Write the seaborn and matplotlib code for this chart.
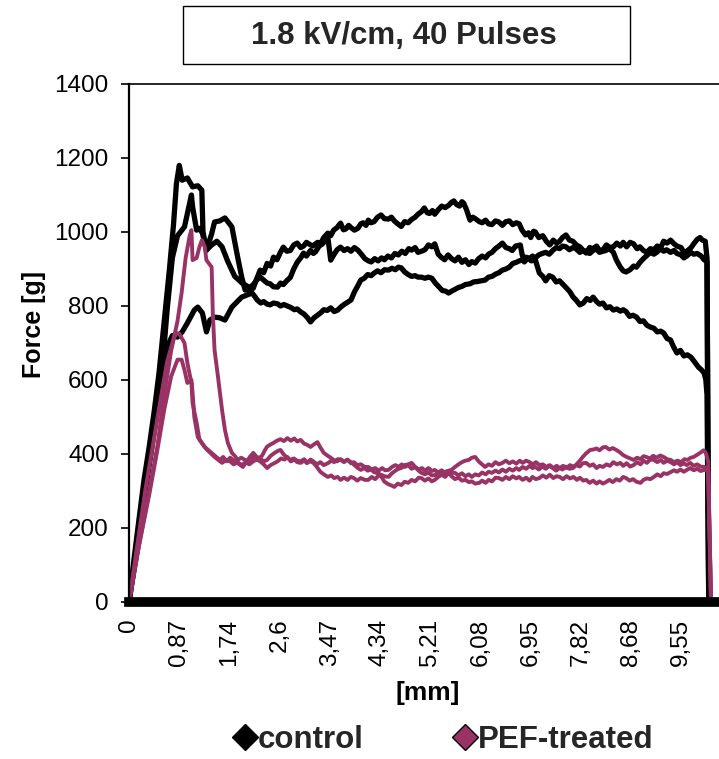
import matplotlib
matplotlib.use("Agg")
import matplotlib.pyplot as plt
import seaborn as sns
import pandas as pd
from matplotlib.lines import Line2D
from matplotlib.patches import Rectangle

# ---------------- data ----------------
# each curve: (distance [mm], force [g]) points
ctrl_a = [(0, 0), (0.09, 120), (0.17, 220), (0.26, 330), (0.35, 420), (0.44, 520), (0.52, 620), (0.61, 760),
          (0.70, 900), (0.77, 1020), (0.82, 1130), (0.87, 1180), (0.92, 1140), (1.01, 1146), (1.10, 1122),
          (1.19, 1125), (1.26, 1113), (1.28, 1000), (1.34, 951), (1.43, 995), (1.48, 1027), (1.57, 1030),
          (1.66, 1038), (1.78, 1014), (1.88, 932), (1.95, 878), (2.01, 843), (2.15, 848),
          (2.20, 870), (2.27, 897), (2.33, 890), (2.39, 915), (2.45, 908), (2.50, 932), (2.56, 925), (2.62, 945),
          (2.67, 959), (2.73, 948), (2.79, 950), (2.85, 965), (2.91, 970), (2.97, 958), (3.02, 962), (3.07, 972),
          (3.11, 968), (3.18, 962), (3.26, 972), (3.31, 968), (3.37, 985), (3.44, 997), (3.49, 990), (3.54, 1005),
          (3.60, 1012), (3.66, 1024), (3.71, 1006), (3.75, 1008), (3.80, 1018), (3.84, 1012), (3.90, 1005),
          (3.96, 1010), (4.01, 1022), (4.05, 1025), (4.10, 1018), (4.14, 1032), (4.19, 1025), (4.24, 1028),
          (4.30, 1040), (4.36, 1046), (4.42, 1036), (4.49, 1035), (4.54, 1040), (4.59, 1030), (4.65, 1022),
          (4.71, 1015), (4.77, 1028), (4.83, 1025), (4.89, 1034), (4.95, 1040), (5.00, 1048), (5.06, 1055),
          (5.11, 1065), (5.16, 1052), (5.20, 1050), (5.25, 1058), (5.29, 1048), (5.35, 1060), (5.41, 1070),
          (5.47, 1066), (5.53, 1072), (5.58, 1080), (5.62, 1084), (5.67, 1074), (5.72, 1070), (5.76, 1082),
          (5.79, 1078), (5.84, 1060), (5.90, 1032), (5.95, 1040), (6.00, 1035), (6.06, 1028), (6.11, 1025),
          (6.17, 1032), (6.22, 1022), (6.28, 1020), (6.34, 1030), (6.40, 1027), (6.46, 1018), (6.52, 1028),
          (6.58, 1030), (6.64, 1020), (6.70, 1025), (6.75, 1022), (6.80, 1005), (6.86, 992), (6.91, 998),
          (6.95, 985), (7.00, 1002), (7.03, 1000), (7.09, 985), (7.16, 990), (7.22, 975), (7.28, 965), (7.34, 978),
          (7.40, 970), (7.45, 975), (7.50, 985), (7.56, 992), (7.62, 978), (7.68, 975), (7.74, 965), (7.80, 960),
          (7.86, 950), (7.91, 943), (7.97, 958), (8.03, 955), (8.09, 962), (8.14, 950), (8.20, 952), (8.26, 965),
          (8.32, 958), (8.38, 960), (8.44, 970), (8.50, 962), (8.55, 972), (8.61, 960), (8.67, 972), (8.73, 968),
          (8.79, 955), (8.84, 960), (8.90, 950), (8.96, 945), (9.02, 955), (9.08, 952), (9.14, 962), (9.20, 958),
          (9.25, 975), (9.31, 970), (9.37, 978), (9.43, 968), (9.48, 962), (9.55, 958), (9.60, 945), (9.65, 948),
          (9.72, 957), (9.77, 968), (9.83, 980), (9.88, 985), (9.92, 978), (9.97, 975), (10.00, 930), (10.03, 0)]

ctrl_b = [(0, 0), (0.12, 130), (0.26, 280), (0.38, 400), (0.49, 520), (0.58, 640), (0.66, 790), (0.75, 930),
          (0.84, 990), (0.96, 1014), (1.05, 1078), (1.08, 1100), (1.10, 1068), (1.17, 1005), (1.22, 1010),
          (1.27, 997), (1.34, 951), (1.43, 965), (1.52, 975), (1.61, 960), (1.71, 920), (1.83, 880), (1.97, 860),
          (2.09, 850), (2.15, 858), (2.22, 872), (2.27, 878), (2.33, 870), (2.39, 862), (2.44, 860), (2.50, 852),
          (2.57, 851), (2.62, 862), (2.67, 858), (2.74, 870), (2.79, 877), (2.85, 900), (2.91, 918), (2.97, 930),
          (3.02, 943), (3.07, 935), (3.14, 950), (3.19, 942), (3.23, 947), (3.29, 962), (3.35, 968), (3.40, 980),
          (3.44, 986), (3.47, 950), (3.49, 924), (3.55, 940), (3.60, 952), (3.66, 959), (3.72, 950), (3.78, 955),
          (3.84, 948), (3.90, 958), (3.96, 951), (4.02, 940), (4.08, 928), (4.14, 922), (4.19, 919), (4.25, 928),
          (4.31, 922), (4.37, 930), (4.42, 925), (4.48, 935), (4.54, 930), (4.60, 942), (4.66, 938), (4.72, 948),
          (4.78, 942), (4.84, 955), (4.89, 951), (4.95, 958), (5.00, 945), (5.06, 948), (5.12, 952), (5.18, 965),
          (5.24, 960), (5.29, 968), (5.35, 940), (5.40, 932), (5.46, 925), (5.52, 938), (5.58, 928), (5.64, 922),
          (5.70, 932), (5.76, 918), (5.82, 925), (5.88, 912), (5.93, 920), (5.99, 916), (6.05, 928), (6.11, 935),
          (6.17, 930), (6.22, 940), (6.28, 945), (6.34, 955), (6.40, 962), (6.46, 970), (6.52, 958), (6.58, 955),
          (6.63, 950), (6.69, 962), (6.77, 965), (6.80, 940), (6.84, 919), (6.90, 930), (6.96, 922), (7.03, 925),
          (7.07, 905), (7.10, 889), (7.16, 880), (7.21, 868), (7.27, 882), (7.33, 878), (7.39, 865), (7.45, 868),
          (7.50, 860), (7.56, 850), (7.63, 838), (7.68, 825), (7.74, 815), (7.80, 803), (7.86, 808), (7.92, 820),
          (7.98, 815), (8.03, 824), (8.09, 812), (8.14, 805), (8.20, 808), (8.26, 795), (8.32, 798), (8.38, 789),
          (8.44, 792), (8.50, 786), (8.55, 790), (8.60, 785), (8.66, 772), (8.72, 775), (8.78, 770), (8.84, 758),
          (8.90, 760), (8.96, 748), (9.02, 743), (9.08, 740), (9.14, 730), (9.20, 732), (9.25, 727), (9.31, 712),
          (9.37, 708), (9.42, 690), (9.48, 673), (9.54, 680), (9.60, 665), (9.66, 668), (9.72, 662), (9.78, 650),
          (9.85, 635), (9.90, 628), (9.95, 619), (9.98, 600), (10.00, 560), (10.03, 0)]

ctrl_c = [(0, 0), (0.14, 140), (0.26, 290), (0.38, 420), (0.49, 540), (0.58, 640), (0.66, 690), (0.75, 720),
          (0.84, 716), (0.92, 730), (1.01, 754), (1.13, 789), (1.19, 797), (1.27, 781), (1.34, 730), (1.40, 762),
          (1.48, 770), (1.57, 768), (1.66, 762), (1.78, 797), (1.95, 824), (2.13, 835), (2.18, 825), (2.22, 816),
          (2.28, 808), (2.33, 812), (2.39, 805), (2.44, 803), (2.50, 808), (2.57, 806), (2.62, 800), (2.68, 804),
          (2.74, 800), (2.80, 796), (2.86, 790), (2.91, 792), (2.97, 784), (3.03, 778), (3.09, 768), (3.14, 757),
          (3.20, 768), (3.26, 775), (3.32, 782), (3.37, 790), (3.43, 788), (3.49, 795), (3.55, 785), (3.61, 789),
          (3.67, 798), (3.73, 805), (3.78, 810), (3.84, 816), (3.90, 838), (3.96, 855), (4.01, 870), (4.07, 875),
          (4.13, 885), (4.19, 882), (4.24, 889), (4.30, 895), (4.36, 890), (4.42, 898), (4.49, 897), (4.55, 902),
          (4.61, 898), (4.66, 905), (4.71, 903), (4.77, 892), (4.83, 885), (4.89, 880), (4.95, 882), (5.00, 878),
          (5.06, 878), (5.12, 875), (5.18, 878), (5.24, 875), (5.30, 862), (5.36, 852), (5.42, 842), (5.48, 840),
          (5.53, 835), (5.58, 840), (5.64, 845), (5.70, 850), (5.76, 853), (5.82, 858), (5.90, 860), (5.96, 865),
          (6.02, 866), (6.09, 868), (6.16, 870), (6.22, 878), (6.28, 880), (6.34, 886), (6.40, 890), (6.46, 897),
          (6.52, 900), (6.58, 905), (6.64, 915), (6.70, 918), (6.75, 922), (6.81, 924), (6.87, 932), (6.93, 928),
          (6.98, 935), (7.03, 930), (7.09, 938), (7.15, 942), (7.21, 945), (7.27, 940), (7.33, 950), (7.39, 958),
          (7.45, 955), (7.50, 962), (7.56, 960), (7.62, 952), (7.68, 958), (7.73, 955), (7.80, 945), (7.85, 950),
          (7.91, 948), (7.97, 942), (8.03, 950), (8.08, 955), (8.14, 945), (8.20, 948), (8.25, 950), (8.31, 955),
          (8.38, 945), (8.43, 925), (8.50, 905), (8.55, 895), (8.60, 892), (8.67, 898), (8.73, 908), (8.78, 905),
          (8.84, 918), (8.90, 928), (8.95, 935), (9.02, 945), (9.08, 940), (9.13, 945), (9.20, 955), (9.25, 948),
          (9.30, 952), (9.37, 945), (9.43, 950), (9.48, 942), (9.55, 938), (9.60, 930), (9.65, 935), (9.72, 945),
          (9.77, 940), (9.83, 942), (9.90, 935), (9.95, 925), (10.00, 920), (10.03, 0)]

pef_a = [(0, 0), (0.17, 150), (0.35, 300), (0.49, 420), (0.61, 560), (0.73, 680), (0.84, 760), (0.91, 835),
         (0.98, 930), (1.05, 990), (1.08, 1005), (1.10, 924), (1.17, 930), (1.22, 960), (1.26, 978), (1.31, 960),
         (1.34, 924), (1.43, 905), (1.45, 781), (1.48, 681), (1.54, 608), (1.61, 519), (1.66, 465), (1.71, 430),
         (1.78, 403), (1.83, 395), (1.88, 384), (1.94, 390), (2.01, 384), (2.07, 378), (2.15, 392), (2.21, 385),
         (2.27, 380), (2.33, 372), (2.39, 362), (2.45, 370), (2.51, 375), (2.57, 380), (2.63, 388), (2.69, 385),
         (2.74, 392), (2.80, 380), (2.86, 385), (2.91, 378), (2.97, 376), (3.03, 382), (3.08, 375), (3.14, 385),
         (3.19, 380), (3.25, 372), (3.31, 378), (3.37, 370), (3.44, 375), (3.50, 382), (3.55, 378), (3.61, 386),
         (3.66, 384), (3.72, 378), (3.78, 385), (3.84, 375), (3.89, 378), (3.95, 370), (4.01, 372), (4.08, 365),
         (4.14, 365), (4.20, 358), (4.26, 362), (4.32, 355), (4.38, 362), (4.43, 356), (4.49, 357), (4.55, 365),
         (4.61, 370), (4.66, 365), (4.72, 372), (4.77, 365), (4.83, 370), (4.89, 360), (4.95, 365), (5.01, 358),
         (5.07, 362), (5.12, 355), (5.18, 362), (5.24, 354), (5.29, 357), (5.35, 350), (5.41, 356), (5.47, 348),
         (5.53, 352), (5.58, 349), (5.64, 349), (5.70, 342), (5.76, 348), (5.82, 340), (5.88, 345), (5.93, 338),
         (5.99, 345), (6.05, 342), (6.11, 350), (6.17, 345), (6.22, 352), (6.28, 349), (6.34, 355), (6.40, 350),
         (6.46, 358), (6.52, 352), (6.58, 360), (6.64, 355), (6.70, 362), (6.75, 357), (6.81, 365), (6.87, 360),
         (6.93, 368), (6.98, 362), (7.03, 365), (7.09, 358), (7.15, 366), (7.21, 360), (7.27, 368), (7.33, 362),
         (7.39, 355), (7.45, 362), (7.50, 358), (7.56, 366), (7.62, 360), (7.68, 362), (7.74, 370), (7.80, 366),
         (7.85, 375), (7.91, 376), (7.97, 368), (8.03, 372), (8.09, 362), (8.14, 368), (8.20, 365), (8.26, 372),
         (8.32, 368), (8.38, 378), (8.44, 372), (8.50, 376), (8.55, 368), (8.61, 375), (8.67, 366), (8.73, 370),
         (8.79, 378), (8.85, 372), (8.90, 382), (8.96, 376), (9.02, 385), (9.08, 384), (9.14, 378), (9.20, 384),
         (9.25, 376), (9.31, 382), (9.37, 378), (9.43, 372), (9.48, 378), (9.54, 370), (9.60, 375), (9.65, 370),
         (9.71, 376), (9.77, 368), (9.83, 372), (9.89, 366), (9.95, 365), (10.02, 360), (10.07, 0)]

pef_b = [(0, 0), (0.14, 150), (0.28, 300), (0.42, 430), (0.56, 560), (0.66, 650), (0.77, 710), (0.82, 727),
         (0.87, 725), (0.96, 700), (1.01, 646), (1.08, 592), (1.10, 538), (1.17, 484), (1.22, 438), (1.31, 419),
         (1.43, 403), (1.57, 384), (1.63, 392), (1.69, 380), (1.75, 390), (1.80, 384), (1.86, 378), (1.91, 372),
         (1.97, 365), (2.03, 378), (2.09, 392), (2.15, 403), (2.21, 392), (2.27, 388), (2.33, 380), (2.39, 384),
         (2.45, 395), (2.51, 402), (2.57, 408), (2.62, 411), (2.68, 398), (2.74, 390), (2.79, 384), (2.85, 388),
         (2.91, 382), (2.97, 380), (3.03, 386), (3.08, 378), (3.14, 380), (3.19, 376), (3.25, 365), (3.31, 352),
         (3.37, 345), (3.44, 338), (3.50, 342), (3.55, 335), (3.61, 338), (3.66, 330), (3.72, 336), (3.78, 330),
         (3.84, 338), (3.89, 335), (3.95, 328), (4.01, 335), (4.08, 330), (4.14, 330), (4.20, 338), (4.26, 332),
         (4.32, 342), (4.36, 340), (4.42, 325), (4.49, 318), (4.54, 315), (4.59, 311), (4.65, 320), (4.71, 316),
         (4.77, 325), (4.83, 322), (4.89, 330), (4.95, 326), (5.01, 336), (5.06, 335), (5.12, 328), (5.18, 334),
         (5.24, 326), (5.29, 330), (5.35, 338), (5.41, 344), (5.47, 338), (5.53, 349), (5.58, 340), (5.64, 332),
         (5.70, 336), (5.76, 328), (5.82, 330), (5.88, 324), (5.93, 326), (5.99, 320), (6.06, 322), (6.11, 328),
         (6.17, 322), (6.22, 330), (6.28, 326), (6.34, 336), (6.40, 335), (6.46, 330), (6.52, 338), (6.58, 332),
         (6.64, 340), (6.70, 334), (6.75, 338), (6.81, 330), (6.87, 336), (6.93, 328), (6.98, 338), (7.04, 332),
         (7.10, 335), (7.16, 342), (7.22, 336), (7.28, 344), (7.34, 335), (7.40, 340), (7.45, 338), (7.51, 332),
         (7.57, 340), (7.63, 334), (7.69, 338), (7.75, 330), (7.80, 336), (7.86, 328), (7.91, 330), (7.97, 322),
         (8.03, 328), (8.09, 320), (8.14, 326), (8.20, 320), (8.25, 324), (8.31, 330), (8.37, 324), (8.43, 332),
         (8.49, 328), (8.55, 338), (8.60, 335), (8.66, 328), (8.72, 332), (8.78, 325), (8.85, 322), (8.90, 330),
         (8.96, 334), (9.02, 332), (9.08, 338), (9.14, 345), (9.20, 340), (9.25, 348), (9.31, 346), (9.37, 351),
         (9.43, 356), (9.48, 352), (9.54, 358), (9.60, 352), (9.65, 357), (9.71, 362), (9.77, 356), (9.83, 360),
         (9.89, 354), (9.95, 357), (10.02, 355), (10.07, 0)]

pef_c = [(0, 0), (0.17, 150), (0.35, 290), (0.49, 410), (0.61, 520), (0.73, 610), (0.84, 655), (0.91, 655),
         (0.96, 627), (1.01, 592), (1.08, 600), (1.10, 565), (1.13, 500), (1.19, 446), (1.31, 419), (1.36, 410),
         (1.48, 392), (1.61, 376), (1.68, 384), (1.75, 380), (1.81, 372), (1.88, 378), (1.95, 370), (2.02, 378),
         (2.08, 372), (2.15, 380), (2.22, 386), (2.30, 395), (2.35, 410), (2.39, 420), (2.45, 426), (2.50, 430),
         (2.56, 436), (2.62, 440), (2.68, 435), (2.74, 443), (2.80, 436), (2.86, 442), (2.91, 434), (2.97, 438),
         (3.03, 428), (3.08, 425), (3.14, 419), (3.20, 426), (3.26, 432), (3.31, 418), (3.37, 403), (3.43, 396),
         (3.49, 390), (3.54, 384), (3.60, 380), (3.66, 386), (3.72, 380), (3.78, 384), (3.84, 378), (3.90, 370),
         (3.96, 362), (4.01, 357), (4.07, 362), (4.13, 355), (4.19, 358), (4.24, 351), (4.30, 348), (4.36, 344),
         (4.42, 340), (4.49, 338), (4.55, 348), (4.61, 355), (4.66, 360), (4.71, 362), (4.77, 370), (4.83, 372),
         (4.89, 376), (4.95, 365), (5.01, 355), (5.06, 349), (5.12, 345), (5.18, 350), (5.24, 342), (5.29, 343),
         (5.35, 350), (5.41, 345), (5.47, 352), (5.53, 355), (5.58, 357), (5.64, 365), (5.70, 372), (5.76, 378),
         (5.82, 382), (5.88, 384), (5.93, 390), (5.99, 392), (6.05, 380), (6.11, 372), (6.16, 365), (6.22, 372),
         (6.28, 368), (6.34, 378), (6.40, 372), (6.46, 376), (6.52, 382), (6.58, 375), (6.64, 380), (6.70, 374),
         (6.76, 382), (6.81, 376), (6.87, 382), (6.93, 378), (6.99, 372), (7.04, 378), (7.10, 370), (7.16, 372),
         (7.22, 365), (7.28, 370), (7.34, 362), (7.40, 368), (7.45, 362), (7.51, 368), (7.57, 362), (7.63, 370),
         (7.68, 366), (7.73, 370), (7.79, 380), (7.85, 392), (7.91, 402), (7.98, 411), (8.03, 412), (8.09, 415),
         (8.14, 410), (8.20, 418), (8.25, 419), (8.31, 412), (8.37, 416), (8.43, 411), (8.49, 405), (8.55, 397),
         (8.61, 392), (8.67, 388), (8.73, 384), (8.79, 390), (8.85, 386), (8.90, 394), (8.95, 392), (9.01, 388),
         (9.07, 395), (9.13, 390), (9.19, 396), (9.25, 392), (9.31, 386), (9.37, 384), (9.43, 378), (9.49, 382),
         (9.55, 378), (9.61, 386), (9.66, 384), (9.72, 390), (9.77, 392), (9.83, 398), (9.90, 405), (9.94, 410),
         (9.98, 403), (10.02, 380), (10.07, 0)]

tick_pos = [0, 0.87, 1.74, 2.6, 3.47, 4.34, 5.21, 6.08, 6.95, 7.82, 8.68, 9.55]
tick_labels = ["0", "0,87", "1,74", "2,6", "3,47", "4,34", "5,21", "6,08", "6,95", "7,82", "8,68", "9,55"]
y_ticks = [0, 200, 400, 600, 800, 1000, 1200, 1400]

title = "1.8 kV/cm, 40 Pulses"
series_names = ["control", "PEF-treated"]

# ---------------- styling ----------------
sns.set_theme(style="white")
plt.rcParams["font.family"] = ["Liberation Sans", "DejaVu Sans"]

CTRL = "#000000"
PEF = "#993366"

W, H = 719, 759
fig = plt.figure(figsize=(W / 100, H / 100), dpi=100)
ax = fig.add_axes([129 / W, 1 - 602 / H, (W - 129) / W, (602 - 84) / H])


def draw(points, color, lw):
    df = pd.DataFrame(points, columns=["x", "y"])
    sns.lineplot(data=df, x="x", y="y", color=color, lw=lw, ax=ax,
                 sort=False, estimator=None, legend=False)


for pts in (ctrl_a, ctrl_b, ctrl_c):
    draw(pts, CTRL, 3.8)
for pts in (pef_a, pef_b, pef_c):
    draw(pts, PEF, 2.8)

ax.set_xlim(0, (W - 129) / 57.8)
ax.set_ylim(0, 1400)
ax.set_xticks(tick_pos)
ax.set_xticklabels(tick_labels, rotation=90, fontsize=17.5)
ax.set_yticks(y_ticks)
ax.set_yticklabels([str(v) for v in y_ticks], fontsize=17.5)
ax.tick_params(axis="y", direction="out", length=6, width=1.2, pad=8.5, colors="black", left=True)
ax.tick_params(axis="x", length=0, pad=12, colors="black")

for s in ["top", "left"]:
    ax.spines[s].set_visible(True)
    ax.spines[s].set_color("black")
ax.spines["top"].set_linewidth(1.2)
ax.spines["left"].set_linewidth(1.6)
ax.spines["right"].set_visible(False)
ax.spines["bottom"].set_color("black")
ax.spines["bottom"].set_linewidth(7)

ax.set_xlabel("[mm]", fontsize=19, fontweight="bold", color="black")
ax.xaxis.set_label_coords((428 - 129) / (W - 129), (602 - 681) / (602 - 84))
ax.set_ylabel("Force [g]", fontsize=18, fontweight="bold", color="black")
ax.yaxis.set_label_coords((46 - 129) / (W - 129), (602 - 325) / (602 - 84))

# title box
fig.patches.append(Rectangle((183 / W, 1 - 64 / H), 447 / W, 58 / H, transform=fig.transFigure,
                             facecolor="white", edgecolor="black", lw=1.0))
fig.text(404 / W, 1 - 36 / H, title, ha="center", va="center", fontsize=22.5, fontweight="bold")

# legend
handles = [Line2D([], [], ls="none", marker="D", markersize=13, markerfacecolor=CTRL, markeredgecolor="black"),
           Line2D([], [], ls="none", marker="D", markersize=13, markerfacecolor=PEF, markeredgecolor="black")]
fig.legend(handles, series_names, loc="center", bbox_to_anchor=(444 / W, 1 - 740 / H), ncol=2,
           frameon=False, prop={"size": 22.5, "weight": "bold"}, handlelength=0.7, handletextpad=0.05,
           columnspacing=2.9)

fig.savefig("out.png", dpi=100)
